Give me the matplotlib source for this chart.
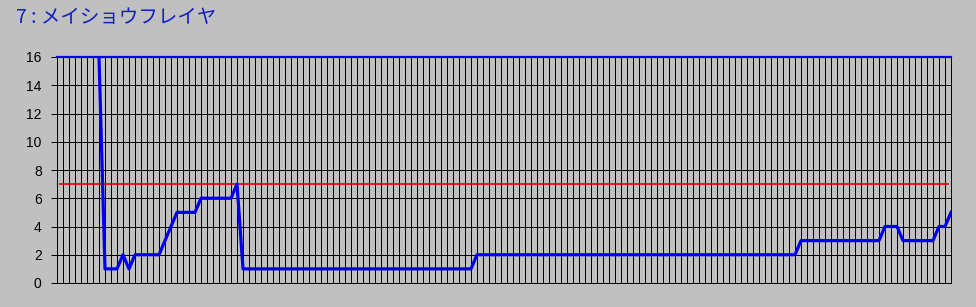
import numpy as np
import matplotlib.pyplot as plt

plt.rcParams['font.family'] = ['Noto Sans CJK JP', 'DejaVu Sans']

title = "7 : メイショウフレイヤ"
n_points = 150
# 順位の推移（先頭7点はデータなし）
rank = [None] * 7 + [
    16, 1, 1, 1, 2, 1, 2, 2, 2, 2, 2, 3, 4, 5, 5, 5, 5, 6, 6, 6,
    6, 6, 6, 7, 1, 1, 1, 1, 1, 1, 1, 1, 1, 1, 1, 1, 1, 1, 1, 1,
    1, 1, 1, 1, 1, 1, 1, 1, 1, 1, 1, 1, 1, 1, 1, 1, 1, 1, 1, 1,
    1, 1, 1, 2, 2, 2, 2, 2, 2, 2, 2, 2, 2, 2, 2, 2, 2, 2, 2, 2,
    2, 2, 2, 2, 2, 2, 2, 2, 2, 2, 2, 2, 2, 2, 2, 2, 2, 2, 2, 2,
    2, 2, 2, 2, 2, 2, 2, 2, 2, 2, 2, 2, 2, 2, 2, 2, 2, 3, 3, 3,
    3, 3, 3, 3, 3, 3, 3, 3, 3, 3, 3, 4, 4, 4, 3, 3, 3, 3, 3, 3,
    4, 4, 5,
]
ref_level = 7
top_level = 16
yticks = [0, 2, 4, 6, 8, 10, 12, 14, 16]

x = np.arange(n_points)
y = np.array([np.nan if v is None else v for v in rank], dtype=float)

fig = plt.figure(figsize=(9.76, 3.07), dpi=100, facecolor='#c0c0c0')
ax = fig.add_axes([57 / 976, 24 / 307, 894 / 976, 226 / 307])
ax.set_facecolor('#c0c0c0')

ax.set_xlim(0, n_points - 1)
ax.set_ylim(0, 16)
ax.set_xticks(x)
ax.set_xticklabels([])
ax.set_yticks(yticks)
ax.tick_params(axis='x', length=0)
ax.tick_params(axis='y', length=4, width=0.7, pad=7, labelsize=10, color='black')
for lbl in ax.get_yticklabels():
    lbl.set_family(['Liberation Sans', 'DejaVu Sans'])

ax.grid(True, color='black', linewidth=0.6, antialiased=False)
ax.set_axisbelow(True)
for side in ['left', 'bottom', 'right']:
    ax.spines[side].set_color('black')
    ax.spines[side].set_linewidth(0.7)
ax.spines['top'].set_visible(False)

ax.axhline(top_level, color='#0000ee', linewidth=1.6, zorder=3, clip_on=False)
ax.hlines(ref_level, 0.4, n_points - 1.4, color='#e00000', linewidth=1.2, zorder=3)
ax.plot(x, y, color='#0000ee', linewidth=2.3, zorder=4)

fig.text(16 / 976, 1 - 18 / 307, title, color='#1020c0', fontsize=14, va='center', ha='left')

fig.savefig('out.png', dpi=100, facecolor=fig.get_facecolor())
